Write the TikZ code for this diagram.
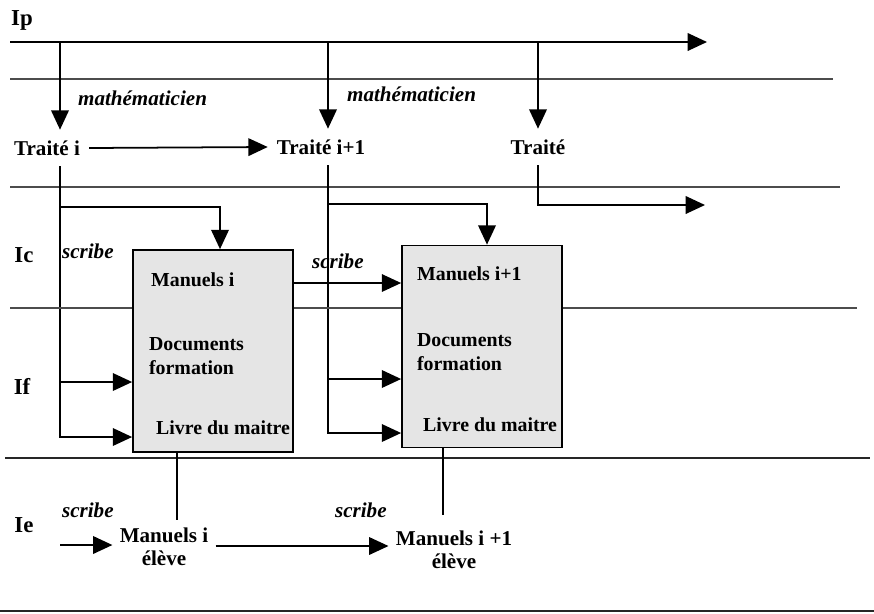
\documentclass[tikz,border=0pt]{standalone}
\usepackage{fontspec}
\setmainfont{Liberation Serif}
\usetikzlibrary{arrows.meta}
\begin{document}
\begin{tikzpicture}[x=0.02cm, y=-0.02cm, >={Triangle[length=11pt, width=10pt]}]
    \tikzstyle{level}=[font=\bfseries\fontsize{13}{15}\selectfont, inner sep=0pt]
    \tikzstyle{doc}=[font=\bfseries\fontsize{11.3}{14}\selectfont, inner sep=1pt, anchor=west, align=left]
    \tikzstyle{traite}=[font=\bfseries\fontsize{12}{14}\selectfont, inner xsep=5pt, inner ysep=6pt]
    \tikzstyle{eleve}=[font=\bfseries\fontsize{12}{13}\selectfont, inner xsep=4pt, inner ysep=1pt, align=center]
    \tikzstyle{who}=[font=\bfseries\itshape\fontsize{12}{14}\selectfont, inner sep=1pt]
    \tikzstyle{box}=[draw, line width=1pt, fill=black!10, minimum width=3.2cm, minimum height=4.04cm]
    \tikzstyle{sep}=[black!70, line width=0.8pt]
    \tikzstyle{flow}=[line width=1pt, ->]
    \useasboundingbox (0,0) rectangle (874,613);
    % bands
    \node [level] (ip) at (22,20) {Ip};
    \node [level] (ic) at (24,255) {Ic};
    \node [level] (if) at (22,386) {If};
    \node [level] (ie) at (24,525) {Ie};
    \coordinate (ip0) at (10,42);
    \coordinate (ip1) at (707,42);
    \draw [flow] (ip0) -- (ip1);
    \draw [sep] (10,79) -- (833,79);
    \draw [sep] (10,187) -- (840,187);
    \draw [black!85, line width=1.4pt] (5,458) -- (870,458);
    \draw [black!85, line width=1.6pt] (0,611) -- (874,611);
    % treatises
    \coordinate (a1) at (60,42);
    \coordinate (a2) at (328,42);
    \coordinate (a3) at (538,42);
    \node [traite] (t1) at (47,148) {Traité i};
    \node [traite] (t2) at (321,147) {Traité i+1};
    \node [traite] (t3) at (538,147) {Traité};
    \draw [flow] (a1) -- (a1 |- t1.north);
    \draw [flow] (a2) -- (a2 |- t2.north);
    \draw [flow] (a3) -- (t3.north);
    \draw [flow] (t1.east) -- (t2.west);
    \node [who, anchor=west] (w1) at (76,98) {mathématicien};
    \node [who, anchor=west] (w2) at (345,94) {mathématicien};
    % teacher books
    \node [box] (b1) at (213,351) {};
    \node [box] (b2) at (482,346.5) {};
    \node [doc] (m1) at (149,280) {Manuels i};
    \node [doc] (d1) at (147,356) {Documents\\formation};
    \node [doc] (l1) at (154,428) {Livre du maitre};
    \node [doc] (m2) at (415,274) {Manuels i+1};
    \node [doc] (d2) at (415,352) {Documents\\formation};
    \node [doc] (l2) at (421,425) {Livre du maitre};
    \coordinate (c1) at (220,207);
    \coordinate (c2) at (487,204);
    \coordinate (c3) at (705,205);
    \draw [flow] (a1 |- c1) -| (b1.north -| c1);
    \draw [flow] (a2 |- c2) -| (b2.north -| c2);
    \draw [flow] (t3.south) |- (c3);
    \coordinate (f1) at (60,382);
    \coordinate (f2) at (328,379);
    \coordinate (g1) at (60,437);
    \coordinate (g2) at (328,433);
    \draw [flow] (a1 |- t1.south) |- (b1.west |- g1);
    \draw [flow] (a2 |- t2.south) |- (b2.west |- g2);
    \draw [flow] (f1) -- (b1.west |- f1);
    \draw [flow] (f2) -- (b2.west |- f2);
    \coordinate (h1) at (0,283);
    \draw [->, line width=0.8pt] (b1.east |- h1) -- (b2.west |- h1);
    \coordinate (s4l) at (10,308);
    \coordinate (s4r) at (857,308);
    \draw [sep] (s4l) -- (s4l -| b1.west) (b1.east |- s4l) -- (b2.west |- s4l) (b2.east |- s4l) -- (s4r);
    \node [who, anchor=west] (s1) at (60,251) {scribe};
    \node [who, anchor=west] (s2) at (310,261) {scribe};
    % pupil books
    \coordinate (e1) at (177,520);
    \coordinate (e2) at (443,515);
    \draw [line width=1pt] (e1 |- b1.south) -- (e1);
    \draw [line width=1pt] (e2 |- b2.south) -- (e2);
    \node [eleve] (p1) at (164,547) {Manuels i\\élève};
    \node [eleve] (p2) at (454,550) {Manuels i +1\\élève};
    \node [who, anchor=west] (s3) at (60,510) {scribe};
    \node [who, anchor=west] (s4) at (333,510) {scribe};
    \coordinate (n0) at (60,545);
    \draw [flow] (n0) -- (p1.west |- n0);
    \draw [->, line width=0.8pt] (p1.east |- n0) ++(0,1) -- (p2.west |- 0,546);
\end{tikzpicture}
\end{document}
